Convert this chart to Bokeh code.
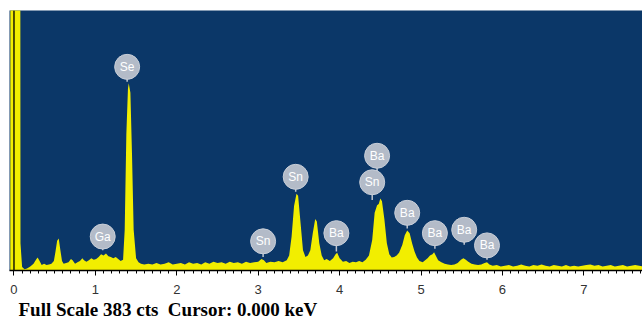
from bokeh.plotting import figure
from bokeh.models import Range1d, SingleIntervalTicker, Span, Title, ColumnDataSource
from bokeh.core.properties import value
from bokeh.embed import file_html
from bokeh.resources import INLINE

# Spectrum (keV, counts)
energy = [-0.06, -0.045, -0.04, 0.07, 0.08, 0.10, 0.13, 0.16, 0.20, 0.24, 0.27, 0.29, 0.31, 0.34, 0.37,
          0.40, 0.43, 0.46, 0.49, 0.51, 0.53, 0.55, 0.57, 0.59, 0.61, 0.64, 0.67, 0.70, 0.72, 0.75,
          0.78, 0.81, 0.84, 0.86, 0.89, 0.92, 0.95, 0.98, 1.01, 1.04, 1.07, 1.10, 1.13, 1.16, 1.19,
          1.22, 1.25, 1.28, 1.31, 1.34, 1.36, 1.38, 1.40, 1.41, 1.43, 1.45, 1.47, 1.50, 1.53, 1.56,
          1.60, 1.65, 1.70, 1.75, 1.80, 1.85, 1.90, 1.95, 2.00, 2.05, 2.10, 2.15, 2.20, 2.25, 2.30,
          2.35, 2.40, 2.45, 2.50, 2.55, 2.60, 2.65, 2.70, 2.75, 2.80, 2.85, 2.90, 2.95, 3.00, 3.04,
          3.07, 3.10, 3.15, 3.20, 3.25, 3.30, 3.35, 3.38, 3.41, 3.44, 3.47, 3.49, 3.52, 3.55, 3.58,
          3.61, 3.64, 3.67, 3.70, 3.72, 3.75, 3.78, 3.81, 3.84, 3.88, 3.92, 3.95, 3.97, 4.00, 4.04,
          4.08, 4.12, 4.16, 4.20, 4.24, 4.28, 4.32, 4.36, 4.40, 4.43, 4.46, 4.48, 4.50, 4.52, 4.55,
          4.58, 4.61, 4.64, 4.67, 4.70, 4.73, 4.77, 4.80, 4.83, 4.86, 4.89, 4.92, 4.95, 4.98, 5.02,
          5.05, 5.08, 5.11, 5.14, 5.16, 5.18, 5.21, 5.25, 5.29, 5.33, 5.37, 5.41, 5.45, 5.49, 5.52,
          5.55, 5.58, 5.62, 5.66, 5.70, 5.74, 5.78, 5.81, 5.84, 5.88, 5.93, 5.98, 6.03, 6.08, 6.13,
          6.18, 6.23, 6.28, 6.33, 6.38, 6.43, 6.48, 6.53, 6.58, 6.63, 6.68, 6.73, 6.78, 6.83, 6.88,
          6.93, 6.98, 7.03, 7.08, 7.13, 7.18, 7.23, 7.28, 7.33, 7.38, 7.43, 7.48, 7.53, 7.58, 7.63,
          7.68, 7.72]
counts = [0, 0, 2000, 2000, 40, 5, 2, 3, 6, 10, 16, 19, 15, 8, 10,
          8, 9, 10, 14, 28, 44, 47, 30, 14, 10, 11, 12, 17, 15, 10,
          12, 14, 18, 15, 13, 15, 18, 16, 17, 20, 24, 22, 25, 21, 20,
          18, 20, 17, 14, 16, 60, 200, 268, 276, 262, 170, 60, 18, 12, 10,
          9, 10, 9, 11, 9, 10, 12, 9, 10, 11, 9, 12, 10, 11, 9,
          12, 10, 13, 11, 12, 10, 13, 11, 12, 10, 13, 11, 12, 13, 17,
          15, 11, 13, 12, 14, 12, 15, 22, 50, 95, 113, 110, 70, 30, 20,
          22, 30, 55, 76, 72, 40, 22, 15, 17, 14, 18, 24, 26, 18, 13,
          14, 11, 13, 12, 14, 12, 16, 22, 45, 85, 96, 98, 106, 102, 75,
          40, 24, 19, 20, 22, 26, 38, 52, 59, 55, 40, 28, 19, 14, 12,
          15, 18, 22, 24, 27, 22, 15, 12, 10, 9, 8, 9, 11, 16, 18,
          16, 13, 10, 9, 8, 9, 11, 12, 9, 7, 8, 6, 7, 8, 6,
          7, 9, 7, 6, 8, 7, 9, 7, 6, 8, 7, 6, 8, 6, 7,
          6, 7, 8, 9, 7, 8, 6, 7, 8, 6, 7, 8, 6, 7, 8,
          7, 6]

# Element markers: label centre (keV, counts) and stem end (counts)
marker_names = ["Se", "Ga", "Sn", "Sn", "Ba", "Ba", "Sn", "Ba", "Ba", "Ba", "Ba"]
marker_kev = [1.39, 1.09, 3.06, 3.46, 3.96, 4.46, 4.40, 4.83, 5.17, 5.53, 5.81]
marker_y = [300, 50, 43, 138, 55, 169, 130, 85, 55, 60, 37]
stem_end = [278, 30, 20, 116, 28, 140, 104, 62, 32, 38, 16]

full_scale = 383
footer = "Full Scale 383 cts\u00a0 Cursor: 0.000 keV"

p = figure(width=642, height=324, output_backend="svg", toolbar_location=None,
           x_range=Range1d(-0.055, 7.72), y_range=Range1d(0, full_scale))
p.min_border_left = 9
p.min_border_right = 0
p.min_border_top = 10
p.min_border_bottom = 54
p.background_fill_color = "#0b3768"
p.border_fill_color = "white"
p.outline_line_color = None
p.grid.visible = False
p.yaxis.visible = False

p.varea(x=energy, y1=[0] * len(energy), y2=counts, fill_color="#f2ee00")

p.add_layout(Span(location=0, dimension="height", line_color="#1a1a00", line_width=1.5))

src = ColumnDataSource(dict(x=marker_kev, y=marker_y, y1=stem_end, t=marker_names))
p.segment(x0="x", y0="y", x1="x", y1="y1", source=src, line_color="#c0c6d0", line_width=1.5)
p.scatter(x="x", y="y", source=src, size=25, marker="circle", fill_color="#b3bbc8",
          line_color="#c8ced8", line_width=1)
p.text(x="x", y="y", text="t", source=src, text_color="white", text_align="center",
       text_baseline="middle", text_font=value("Liberation Sans"), text_font_size="12px")

ax = p.xaxis[0]
ax.ticker = SingleIntervalTicker(interval=1, num_minor_ticks=10)
ax.axis_line_color = "black"
ax.axis_line_width = 1.5
ax.major_tick_line_color = "black"
ax.minor_tick_line_color = "black"
ax.major_tick_out = 5
ax.major_tick_in = 0
ax.minor_tick_out = 3
ax.minor_tick_in = 0
ax.major_label_text_font = "Liberation Sans"
ax.major_label_text_font_size = "13px"
ax.major_label_text_color = "#333333"
ax.major_label_standoff = 9

p.add_layout(Title(text=footer, text_font="Liberation Serif", text_font_style="bold",
                   text_font_size="19px", text_color="black", align="left", offset=9,
                   standoff=1), "below")

open("out.html", "w").write(file_html(p, INLINE))
